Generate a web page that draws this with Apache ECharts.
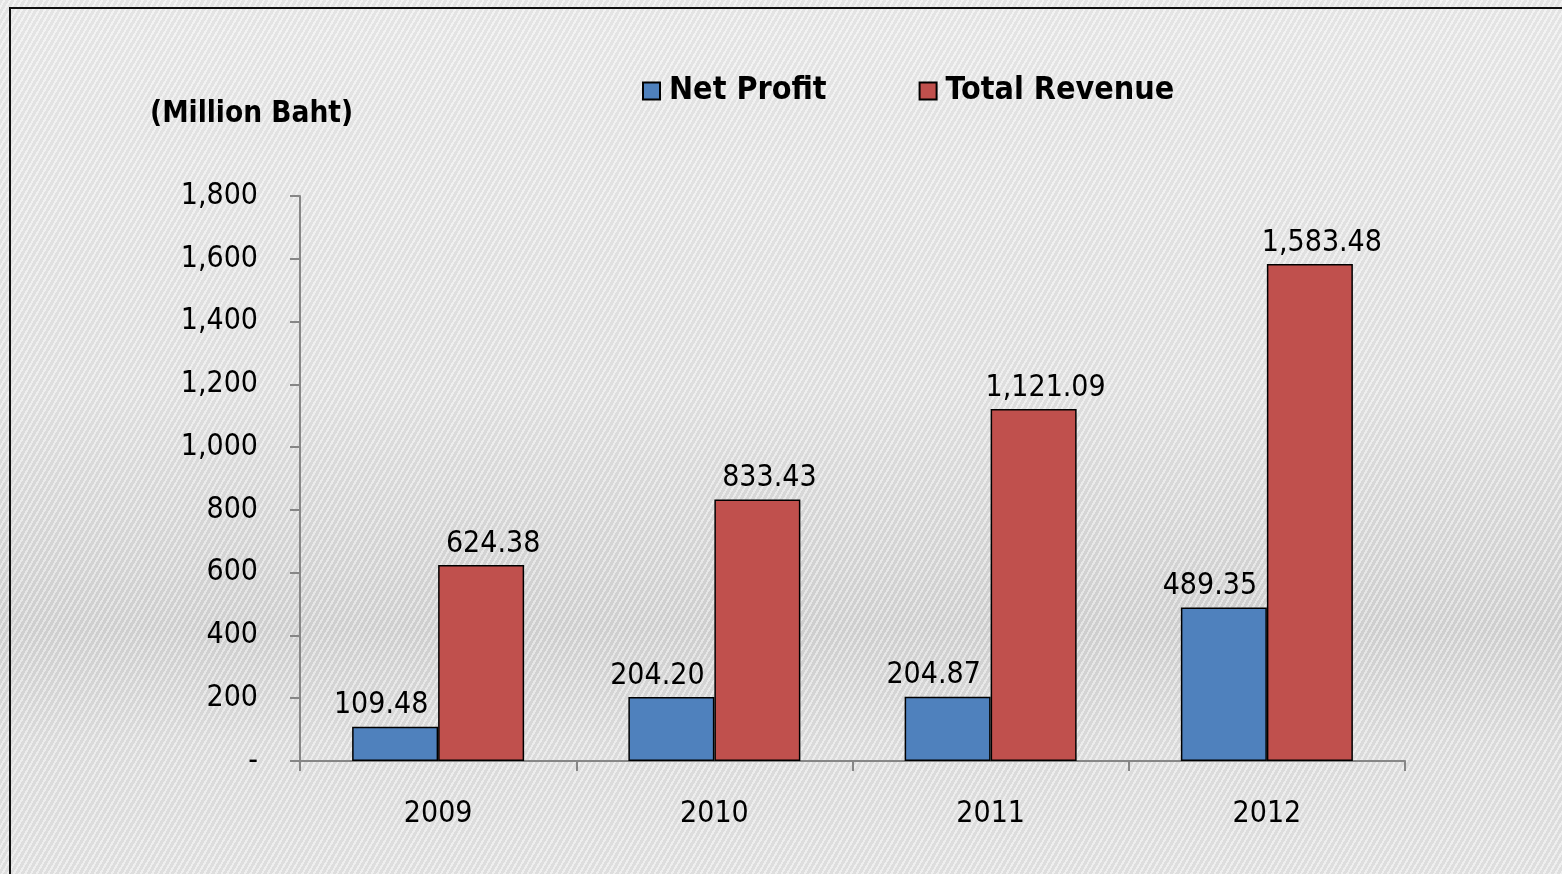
<!DOCTYPE html>
<html lang="en">
<head>
  <meta charset="UTF-8">
  <title>Net Profit and Total Revenue</title>
  <style>
    html, body { margin: 0; padding: 0; width: 1562px; height: 874px; overflow: hidden; }
    body {
      background:
        repeating-linear-gradient(-60deg, rgba(255,255,255,0.35) 0px, rgba(255,255,255,0.35) 2px, rgba(0,0,0,0.035) 2px, rgba(0,0,0,0.035) 5px),
        linear-gradient(to bottom, #ececec 0%, #e6e6e6 45%, #d6d6d6 72%, #e2e2e2 85%, #e6e6e6 100%);
    }
    #frame {
      position: absolute; left: 9px; top: 7px; width: 1600px; height: 900px;
      border-top: 2px solid #111; border-left: 2px solid #111;
    }
    #chart { position: absolute; left: 0; top: 0; width: 1562px; height: 874px; }
  </style>
  <script src="https://cdn.jsdelivr.net/npm/echarts@6/dist/echarts.min.js"></script>
</head>
<body>
  <div id="frame"></div>
  <div id="chart"></div>
  <script>
    var years = ['2009', '2010', '2011', '2012'];
    var netProfit = [109.48, 204.20, 204.87, 489.35];
    var totalRevenue = [624.38, 833.43, 1121.09, 1583.48];
    var seriesNames = ['Net Profit', 'Total Revenue'];
    var unitLabel = '(Million Baht)';

    var FONT = '"DejaVu Sans Condensed", "DejaVu Sans", sans-serif';

    function fmt(v, dec) {
      return v.toLocaleString('en-US', { minimumFractionDigits: dec, maximumFractionDigits: dec });
    }

    // value labels sit a little off-centre, as in the original
    function barLabel(dx) {
      return {
        show: true, position: 'top', distance: 6, offset: [dx, 0], color: '#000',
        fontFamily: FONT, fontSize: 30,
        formatter: function (p) { return fmt(p.value, 2); }
      };
    }

    var chart = echarts.init(document.getElementById('chart'), null, { renderer: 'canvas' });
    chart.setOption({
      backgroundColor: 'transparent',
      animation: false,
      title: {
        text: unitLabel, left: 145, top: 94,
        textStyle: { fontFamily: FONT, fontSize: 29.5, fontWeight: 'bold', color: '#000' }
      },
      legend: {
        left: 637, top: 70, itemWidth: 17, itemHeight: 17, itemGap: 92,
        icon: 'rect',
        textStyle: { fontFamily: FONT, fontSize: 32, fontWeight: 'bold', color: '#000', padding: [0, 0, 0, 4] },
        data: seriesNames
      },
      grid: { left: 300, right: 157, top: 196, bottom: 113, containLabel: false },
      xAxis: {
        type: 'category', data: years,
        axisLine: { lineStyle: { color: '#868686', width: 2 } },
        axisTick: { show: true, length: 10, alignWithLabel: false, lineStyle: { color: '#868686', width: 2 } },
        axisLabel: { color: '#000', fontFamily: FONT, fontSize: 30, margin: 38 }
      },
      yAxis: {
        type: 'value', min: 0, max: 1800, interval: 200,
        splitLine: { show: false },
        axisLine: { show: true, lineStyle: { color: '#868686', width: 2 } },
        axisTick: { show: true, length: 10, lineStyle: { color: '#868686', width: 2 } },
        axisLabel: {
          color: '#000', fontFamily: FONT, fontSize: 30, margin: 42,
          formatter: function (v) { return v === 0 ? '-' : fmt(v, 0); }
        }
      },
      series: [
        {
          name: seriesNames[0], type: 'bar', data: netProfit, barWidth: 86, barGap: '0%',
          itemStyle: { color: '#4f81bd', borderColor: '#000', borderWidth: 1.5 },
          label: barLabel(-14)
        },
        {
          name: seriesNames[1], type: 'bar', data: totalRevenue, barWidth: 86, barGap: '0%',
          itemStyle: { color: '#c0504d', borderColor: '#000', borderWidth: 1.5 },
          label: barLabel(12)
        }
      ]
    });
  </script>
</body>
</html>
